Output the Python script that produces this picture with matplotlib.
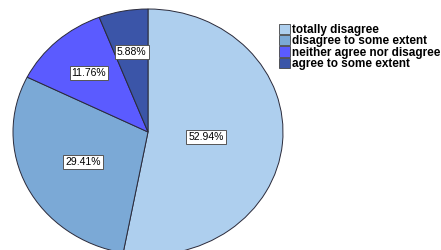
import matplotlib
matplotlib.use("Agg")
import matplotlib.pyplot as plt
from matplotlib.patches import Patch
import numpy as np

categories = ["totally disagree", "disagree to some extent",
              "neither agree nor disagree", "agree to some extent"]
percentages = [52.94, 29.41, 11.76, 5.88]
pct_labels = ["52.94%", "29.41%", "11.76%", "5.88%"]

colors = ["#AECFEE", "#7BA9D6", "#5B5BFF", "#3B55A8"]
label_dist = [0.43, 0.54, 0.65, 0.66]

W, H = 441, 250
fig = plt.figure(figsize=(W / 100, H / 100), dpi=100)
cx, cy, rx, ry = 148, 132, 135, 123
ax = fig.add_axes([(cx - rx) / W, (H - cy - ry) / H, 2 * rx / W, 2 * ry / H])
wedges, _ = ax.pie(percentages, colors=colors, startangle=90, counterclock=False,
                   radius=1, wedgeprops=dict(edgecolor="#2a2a3a", linewidth=0.7))
ax.set_xlim(-1, 1)
ax.set_ylim(-1, 1)
ax.set_aspect("auto")
ax.axis("off")

for w, lab, d in zip(wedges, pct_labels, label_dist):
    ang = np.deg2rad((w.theta1 + w.theta2) / 2)
    ax.text(d * np.cos(ang), d * np.sin(ang), lab, ha="center", va="center",
            fontsize=7.5, family="Liberation Sans",
            bbox=dict(boxstyle="square,pad=0.2", facecolor="white",
                      edgecolor="#555555", linewidth=0.7))

handles = [Patch(facecolor=c, edgecolor="#444444", linewidth=0.6) for c in colors]
leg = fig.legend(handles, categories, loc="upper left",
                 bbox_to_anchor=(279 / W, 1 - 24 / H), frameon=False,
                 prop=dict(family="Liberation Sans", weight="bold", size=8.5),
                 handlelength=0.95, handleheight=0.95, handletextpad=0.15,
                 labelspacing=-0.08, borderpad=0, borderaxespad=0)

fig.savefig("out.png", dpi=100)
